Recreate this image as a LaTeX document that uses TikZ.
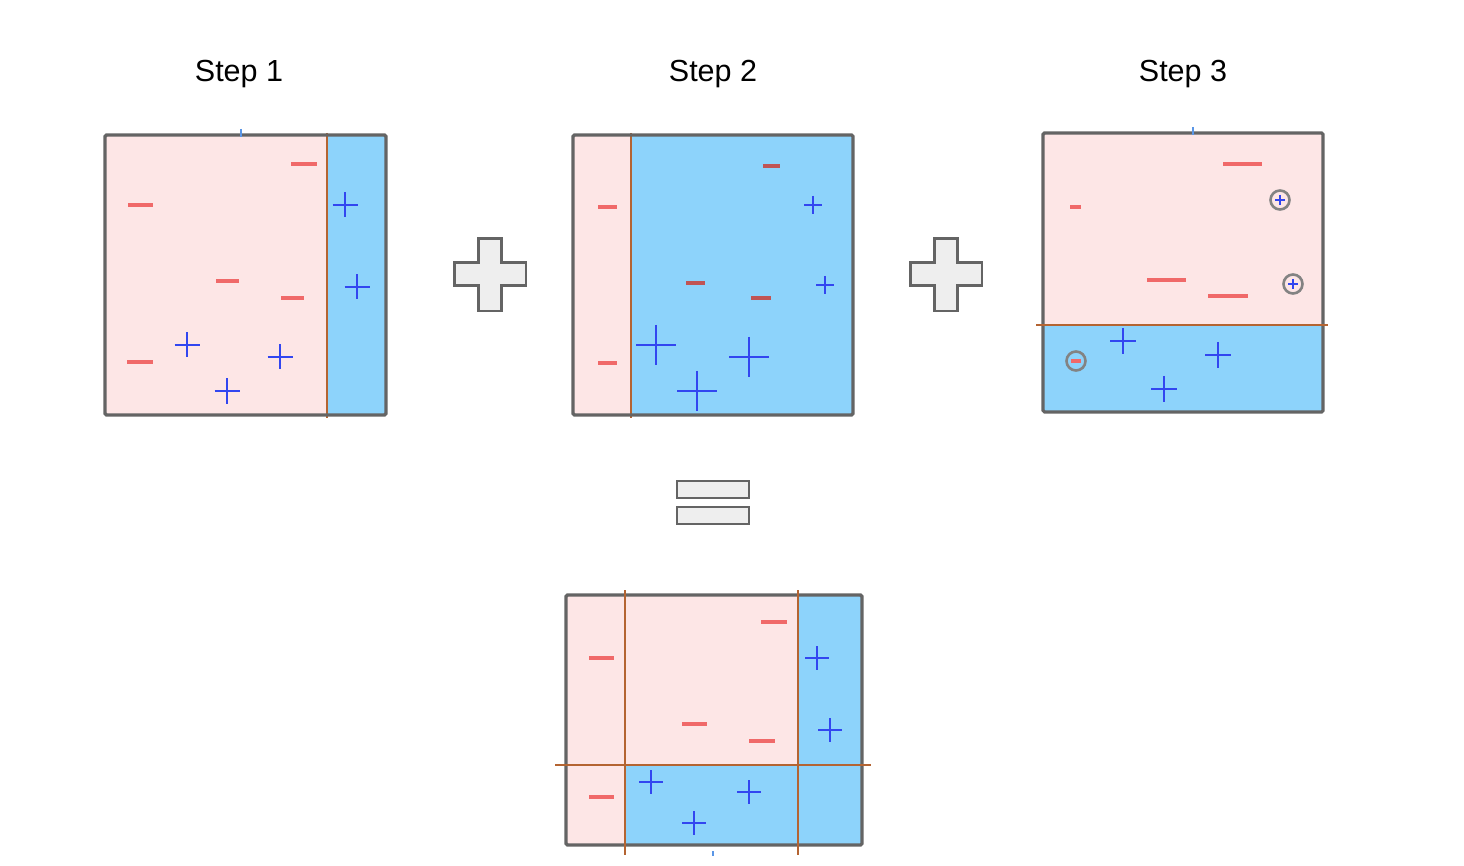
\documentclass[tikz,border=0pt]{standalone}
\usepackage{fontspec}
\setmainfont{Liberation Sans}
\definecolor{pinkfill}{RGB}{253,230,230}
\definecolor{bluefill}{RGB}{141,211,251}
\definecolor{frame}{RGB}{100,100,100}
\definecolor{cut}{RGB}{180,100,50}
\definecolor{negred}{RGB}{240,105,105}
\definecolor{posblue}{RGB}{50,70,240}
\definecolor{opgray}{RGB}{238,238,238}
\definecolor{tickblue}{RGB}{90,150,230}
% a plus mark: x, y, half length
\newcommand{\posmark}[3]{\draw[possign] (#1-#3,#2) -- (#1+#3,#2) (#1,#2-#3) -- (#1,#2+#3);}
% a minus mark: x from, x to, y
\newcommand{\negmark}[3]{\draw[negsign] (#1,#3) -- (#2,#3);}
% the big plus operator at its centre
\newcommand{\bigplus}[2]{\draw[opshape] (#1-11.5,#2-35.5) -- (#1+11.5,#2-35.5) -- (#1+11.5,#2-11.5) -- (#1+36,#2-11.5) -- (#1+36,#2+11.5) -- (#1+11.5,#2+11.5) -- (#1+11.5,#2+37) -- (#1-11.5,#2+37) -- (#1-11.5,#2+11.5) -- (#1-35.5,#2+11.5) -- (#1-35.5,#2-11.5) -- (#1-11.5,#2-11.5) -- cycle;}
\begin{document}
\begin{tikzpicture}[x=1pt,y=-1pt]

\tikzstyle{panel} = [draw=frame,line width=3.2pt,rounded corners=1.5pt];
\tikzstyle{cutline} = [draw=cut,line width=2.2pt];
\tikzstyle{possign} = [draw=posblue,line width=2.8pt];
\tikzstyle{negsign} = [draw=negred,line width=3.2pt];
\tikzstyle{opshape} = [fill=opgray,draw=frame,line width=2.2pt];
\tikzstyle{ringmark} = [draw=frame!80,line width=2.6pt];
\tikzstyle{title} = [font=\fontsize{30.5}{36}\selectfont];

\useasboundingbox (0,0) rectangle (1464,866);

\node[title] (t1) at (239,74) {Step 1};
\node[title] (t2) at (713,74) {Step 2};
\node[title] (t3) at (1183,74) {Step 3};

% step 1
\fill[pinkfill] (105,135) rectangle (327,415);
\fill[bluefill] (327,135) rectangle (386,415);
\draw[cut,line width=1.4pt] (327,133) -- (327,418);
\draw[panel] (105,135) rectangle (386,415);
\draw[tickblue,line width=1.4pt] (241,129) -- (241,137);
\negmark{291}{317}{164}
\negmark{128}{153}{205}
\negmark{216}{239}{281}
\negmark{281}{304}{298}
\negmark{127}{153}{362}
\posmark{345}{205}{12.5}
\posmark{357}{287}{12.5}
\posmark{187}{345}{12.5}
\posmark{280}{357}{12.5}
\posmark{227}{391}{12.5}

% step 2
\fill[pinkfill] (573,135) rectangle (631,415);
\fill[bluefill] (631,135) rectangle (853,415);
\draw[cut,line width=1.4pt] (631,133) -- (631,418);
\draw[panel] (573,135) rectangle (853,415);
\draw[negsign,draw=negred!80!black] (763,166) -- (780,166);
\negmark{598}{617}{207}
\draw[negsign,draw=negred!80!black] (686,283) -- (705,283);
\draw[negsign,draw=negred!80!black] (751,298) -- (771,298);
\negmark{598}{617}{363}
\posmark{813}{205}{9}
\posmark{825}{285}{9}
\posmark{656}{345}{20}
\posmark{749}{357}{20}
\posmark{697}{391}{20}

% step 3
\fill[pinkfill] (1043,133) rectangle (1323,325);
\fill[bluefill] (1043,325) rectangle (1323,412);
\draw[panel] (1043,133) rectangle (1323,412);
\draw[cut,line width=1.8pt] (1036,325) -- (1328,325);
\draw[tickblue,line width=1.4pt] (1193,127) -- (1193,135);
\negmark{1223}{1262}{164}
\negmark{1070}{1081}{207}
\negmark{1147}{1186}{280}
\negmark{1208}{1248}{296}
\draw[ringmark] (1280,200) circle (9.5);
\posmark{1280}{200}{5}
\draw[ringmark] (1293,284) circle (9.5);
\posmark{1293}{284}{5}
\draw[ringmark] (1076,361) circle (9.5);
\negmark{1071}{1081}{361}
\posmark{1123}{341}{13}
\posmark{1218}{355}{13}
\posmark{1164}{389}{13}

% operators
\bigplus{490}{274}
\bigplus{946}{274}
\draw[opshape] (677,481) rectangle (749,498);
\draw[opshape] (677,507) rectangle (749,524);

% result
\fill[pinkfill] (566,595) rectangle (798,765);
\fill[pinkfill] (566,765) rectangle (625,845);
\fill[bluefill] (625,765) rectangle (798,845);
\fill[bluefill] (798,595) rectangle (862,845);
\draw[panel] (566,595) rectangle (862,845);
\draw[cutline,line width=2.8pt] (625,590) -- (625,855);
\draw[cutline,line width=1.8pt] (798,590) -- (798,855);
\draw[cutline] (555,765) -- (871,765);
\draw[tickblue,line width=1.4pt] (713,851) -- (713,856);
\negmark{761}{787}{622}
\negmark{589}{614}{658}
\negmark{682}{707}{724}
\negmark{749}{775}{741}
\negmark{589}{614}{797}
\posmark{817}{658}{12}
\posmark{830}{730}{12}
\posmark{651}{782}{12}
\posmark{749}{792}{12}
\posmark{694}{823}{12}

\end{tikzpicture}
\end{document}
